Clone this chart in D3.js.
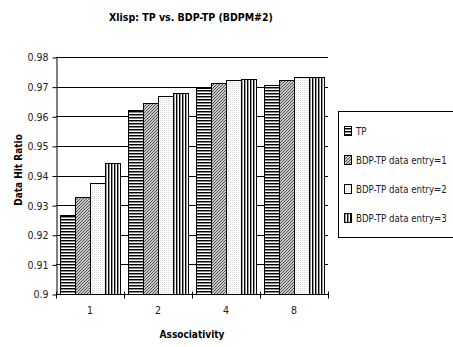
<!DOCTYPE html>
<html>
<head>
<meta charset="utf-8">
<script src="https://cdn.jsdelivr.net/npm/d3@7"></script>
<style>
  body { margin: 0; background: #fff; }
  text { font-family: "DejaVu Sans Condensed", "Liberation Sans", sans-serif; }
</style>
</head>
<body>
<svg id="chart" width="453" height="347"></svg>
<script>
// chart values
const categories = ["1", "2", "4", "8"];
const seriesNames = ["TP", "BDP-TP data entry=1", "BDP-TP data entry=2", "BDP-TP data entry=3"];
const tp = [0.9267, 0.9620, 0.9694, 0.9705];
const entry1 = [0.9327, 0.9644, 0.9711, 0.9721];
const entry2 = [0.9374, 0.9668, 0.9721, 0.9732];
const entry3 = [0.9441, 0.9679, 0.9725, 0.9734];
const yTicks = [0.9, 0.91, 0.92, 0.93, 0.94, 0.95, 0.96, 0.97, 0.98];

const series = [tp, entry1, entry2, entry3];

const svg = d3.select("#chart");
const plotLeft = 56, plotRight = 328, plotTop = 57, plotBottom = 294;

const x0 = d3.scaleBand().domain(categories).range([plotLeft, plotRight])
    .paddingInner(0.118).paddingOuter(0.059);
const x1 = d3.scaleBand().domain(d3.range(series.length)).range([0, x0.bandwidth()]);
const y = d3.scaleLinear().domain([0.9, 0.98]).range([plotBottom, plotTop]);

// fill patterns
const defs = svg.append("defs");

// TP: horizontal stripes
let p = defs.append("pattern").attr("id", "pat0").attr("patternUnits", "userSpaceOnUse")
    .attr("width", 4).attr("height", 3);
p.append("rect").attr("width", 4).attr("height", 3).attr("fill", "#fff");
p.append("rect").attr("width", 4).attr("height", 1).attr("fill", "#000");
p.append("rect").attr("y", 1).attr("width", 4).attr("height", 1).attr("fill", "#888");

// entry=1: gray diagonal hatch
p = defs.append("pattern").attr("id", "pat1").attr("patternUnits", "userSpaceOnUse")
    .attr("width", 3).attr("height", 3);
p.append("rect").attr("width", 3).attr("height", 3).attr("fill", "#c8c8c8");
p.append("path").attr("d", "M0,3L3,0M-1,1L1,-1M2,4L4,2").attr("stroke", "#444").attr("stroke-width", 0.9);

// entry=2: light dots
p = defs.append("pattern").attr("id", "pat2").attr("patternUnits", "userSpaceOnUse")
    .attr("width", 2).attr("height", 2);
p.append("rect").attr("width", 2).attr("height", 2).attr("fill", "#fff");
p.append("rect").attr("width", 1).attr("height", 1).attr("fill", "#d8d8d8");

// entry=3: vertical stripes
p = defs.append("pattern").attr("id", "pat3").attr("patternUnits", "userSpaceOnUse")
    .attr("width", 3).attr("height", 4);
p.append("rect").attr("width", 3).attr("height", 4).attr("fill", "#fff");
p.append("rect").attr("width", 1).attr("height", 4).attr("fill", "#000");
p.append("rect").attr("x", 1).attr("width", 1).attr("height", 4).attr("fill", "#999");

// gridlines
svg.append("g").selectAll("line").data(yTicks.slice(1)).join("line")
    .attr("x1", plotLeft).attr("x2", plotRight)
    .attr("y1", d => Math.round(y(d)) + 0.5).attr("y2", d => Math.round(y(d)) + 0.5)
    .attr("stroke", "#000").attr("stroke-width", 1);

// bars
const groups = svg.append("g").selectAll("g").data(categories).join("g")
    .attr("transform", d => `translate(${x0(d)},0)`);
groups.selectAll("rect")
    .data((c, i) => series.map((s, k) => ({ k: k, v: s[i] })))
    .join("rect")
    .attr("x", d => x1(d.k) + 0.5)
    .attr("y", d => Math.round(y(d.v)) + 0.5)
    .attr("width", x1.bandwidth())
    .attr("height", d => plotBottom - Math.round(y(d.v)))
    .attr("fill", d => `url(#pat${d.k})`)
    .attr("stroke", "#000").attr("stroke-width", 1);

// y axis
const yAxis = d3.axisLeft(y).tickValues(yTicks).tickSizeInner(4).tickSizeOuter(0)
    .tickFormat(d => d3.format(".2f")(d).replace(/0$/, "").replace(/\.$/, ""));
const gy = svg.append("g").attr("transform", `translate(${plotLeft + 0.5},0.5)`).call(yAxis);
gy.selectAll("text").attr("font-size", 10.5).attr("fill", "#222").attr("x", -8)
    .style("font-family", "'DejaVu Sans Condensed', sans-serif");
gy.select(".domain").attr("stroke", "#000");

// x axis
const xAxis = d3.axisBottom(x0).tickSize(0).tickPadding(12);
const gx = svg.append("g").attr("transform", `translate(0,${plotBottom + 0.5})`).call(xAxis);
gx.select(".domain").attr("d", `M${plotLeft},0H${plotRight}`).attr("stroke", "#000");
gx.selectAll("text").attr("font-size", 10.5).attr("fill", "#222")
    .style("font-family", "'DejaVu Sans Condensed', sans-serif");
const boundaries = [plotLeft].concat(categories.map(c => x0(c) + x0.bandwidth() + x0.step() * x0.paddingInner() / 2));
gx.append("g").selectAll("line").data(boundaries).join("line")
    .attr("x1", d => Math.round(d) + 0.5).attr("x2", d => Math.round(d) + 0.5)
    .attr("y1", -3).attr("y2", 4).attr("stroke", "#000");

// titles
svg.append("text").attr("x", 191).attr("y", 21).attr("text-anchor", "middle")
    .attr("font-size", 10.5).attr("font-weight", "bold").text("Xlisp: TP vs. BDP-TP (BDPM#2)");
svg.append("text").attr("x", 192).attr("y", 338).attr("text-anchor", "middle")
    .attr("font-size", 10).attr("font-weight", "bold").text("Associativity");
svg.append("text").attr("transform", "translate(22,170) rotate(-90)").attr("text-anchor", "middle")
    .attr("font-size", 10).attr("font-weight", "bold").text("Data Hit Ratio");

// legend
const lg = svg.append("g");
lg.append("rect").attr("x", 338.5).attr("y", 111.5).attr("width", 130).attr("height", 126)
    .attr("fill", "#fff").attr("stroke", "#000");
const items = lg.selectAll("g").data(seriesNames).join("g")
    .attr("transform", (d, i) => `translate(344,${131 + i * 29})`);
items.append("rect").attr("x", 0.5).attr("y", -4.5).attr("width", 7).attr("height", 9)
    .attr("fill", (d, i) => `url(#pat${i})`).attr("stroke", "#000");
items.append("text").attr("x", 12).attr("y", 3.5).attr("font-size", 9.6).attr("fill", "#222").text(d => d);
</script>
</body>
</html>
